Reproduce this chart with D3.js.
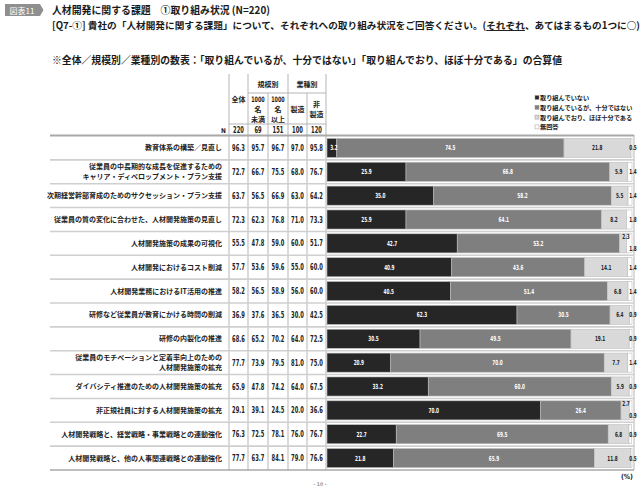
<!DOCTYPE html>
<html><head><meta charset="utf-8">
<script src="https://cdn.jsdelivr.net/npm/d3@7"></script>
<style>
html,body{margin:0;padding:0;background:#fff;}
svg{display:block;}
.jp{font-family:"Noto Sans CJK JP","Noto Sans",sans-serif;}
.num{font-family:"Liberation Sans Narrow","DejaVu Sans Condensed","Liberation Sans",sans-serif;font-weight:bold;}
</style></head>
<body>
<svg id="chart" width="643" height="486"></svg>
<script>
const categories = [
  "教育体系の構築／見直し",
  "従業員の中長期的な成長を促進するための\nキャリア・ディベロップメント・プラン支援",
  "次期経営幹部育成のためのサクセッション・プラン支援",
  "従業員の質の変化に合わせた、人材開発施策の見直し",
  "人材開発施策の成果の可視化",
  "人材開発におけるコスト削減",
  "人材開発業務におけるIT活用の推進",
  "研修など従業員が教育にかける時間の削減",
  "研修の内製化の推進",
  "従業員のモチベーションと定着率向上のための\n人材開発施策の拡充",
  "ダイバシティ推進のための人材開発施策の拡充",
  "非正規社員に対する人材開発施策の拡充",
  "人材開発戦略と、経営戦略・事業戦略との連動強化",
  "人材開発戦略と、他の人事関連戦略との連動強化"
];
const colTotal     = [96.3,72.7,63.7,72.3,55.5,57.7,58.2,36.9,68.6,77.7,65.9,29.1,76.3,77.7];
const colUnder1000 = [95.7,66.7,56.5,62.3,47.8,53.6,56.5,37.6,65.2,73.9,47.8,39.1,72.5,63.7];
const colOver1000  = [96.7,75.5,66.9,76.8,59.0,59.6,58.9,36.5,70.2,79.5,74.2,24.5,78.1,84.1];
const colMfg       = [97.0,68.0,63.0,71.0,60.0,55.0,56.0,30.0,64.0,81.0,64.0,20.0,76.0,79.0];
const colNonMfg    = [95.8,76.7,64.2,73.3,51.7,60.0,60.0,42.5,72.5,75.0,67.5,36.6,76.7,76.6];
const nValues = [220,69,151,100,120];

const notDoing      = [3.2,25.9,35.0,25.9,42.7,40.9,40.5,62.3,30.5,20.9,33.2,70.0,22.7,21.8];
const insufficient  = [74.5,66.8,58.2,64.1,53.2,43.6,51.4,30.5,49.5,70.0,60.0,26.4,69.5,65.9];
const sufficient    = [21.8,5.9,5.5,8.2,2.3,14.1,6.8,6.4,19.1,7.7,5.9,2.7,6.8,11.8];
const noAnswer      = [0.5,1.4,1.4,1.8,1.8,1.4,1.4,0.9,0.9,1.4,0.9,0.9,0.9,0.5];

const legendLabels = ["取り組んでいない","取り組んでいるが、十分ではない","取り組んでおり、ほぼ十分である","無回答"];
const segColors = ["#262626","#7f7f7f","#d9d9d9","#ffffff"];
const segText = ["#ffffff","#ffffff","#222222","#222222"];

const svg = d3.select("#chart");
// condensed number text helper
function numFit(sel, perChar){
  sel.each(function(){
    const t = this.textContent;
    const w = t.replace(/\./g,"").length*perChar + (t.includes(".")?perChar*0.45:0);
    d3.select(this).attr("textLength",w).attr("lengthAdjust","spacingAndGlyphs");
  });
}

// ---------- header ----------
svg.append("path").attr("d","M5,4 H40 L43.5,10 L40,16 H5 Z").attr("fill","#8f8f8f");
svg.append("text").attr("class","jp").attr("x",22).attr("y",13.5).attr("text-anchor","middle")
  .attr("font-size",8).attr("fill","#fff").text("図表11");
svg.append("text").attr("class","jp").attr("x",52).attr("y",14).attr("font-size",10.5)
  .attr("font-weight","bold").attr("fill","#1a1a1a").attr("textLength",218).attr("lengthAdjust","spacingAndGlyphs")
  .text("人材開発に関する課題　①取り組み状況 (N=220)");
const l2 = svg.append("text").attr("class","jp").attr("x",52).attr("y",29).attr("font-size",9.6)
  .attr("font-weight","bold").attr("fill","#1a1a1a").attr("textLength",588).attr("lengthAdjust","spacingAndGlyphs");
l2.append("tspan").text("[Q7-①] 貴社の「人材開発に関する課題」について、それぞれへの取り組み状況をご回答ください。(");
l2.append("tspan").attr("text-decoration","underline").text("それぞれ");
l2.append("tspan").text("、あてはまるもの1つに○)");
svg.append("text").attr("class","jp").attr("x",52).attr("y",63.5).attr("font-size",10)
  .attr("font-weight","bold").attr("fill","#1a1a1a").attr("textLength",510).attr("lengthAdjust","spacingAndGlyphs")
  .text("※全体／規模別／業種別の数表：「取り組んでいるが、十分ではない」「取り組んでおり、ほぼ十分である」の合算値");

// ---------- scales ----------
const y = d3.scaleBand().domain(d3.range(categories.length)).range([136,470]).paddingInner(0.2).paddingOuter(0.1);
const x = d3.scaleLinear().domain([0,100]).range([327,632]);
const colEdges = [229,248,268,288,307,326];
const colCenters = d3.range(5).map(i => (colEdges[i]+colEdges[i+1])/2);
const rowH = 334/categories.length;
const rowTop = i => 136 + i*rowH;

// ---------- table grid ----------
const grid = svg.append("g").attr("stroke","#b5b5b5").attr("stroke-width",1);
[229,248,288,326].forEach(xx => grid.append("line").attr("x1",xx).attr("x2",xx).attr("y1",74).attr("y2",470));
[268,307].forEach(xx => grid.append("line").attr("x1",xx).attr("x2",xx).attr("y1",93).attr("y2",470));
grid.append("line").attr("x1",248).attr("x2",326).attr("y1",93).attr("y2",93);
grid.append("line").attr("x1",229).attr("x2",326).attr("y1",124).attr("y2",124);
grid.append("line").attr("x1",634).attr("x2",634).attr("y1",135).attr("y2",470);
for (let i=1;i<categories.length;i++){
  svg.append("line").attr("x1",50).attr("x2",634).attr("y1",rowTop(i)).attr("y2",rowTop(i))
    .attr("stroke","#cfcfcf").attr("stroke-width",1.6);
}
svg.append("line").attr("x1",50).attr("x2",634).attr("y1",135.5).attr("y2",135.5).attr("stroke","#a8a8a8").attr("stroke-width",2);
svg.append("line").attr("x1",50).attr("x2",634).attr("y1",470).attr("y2",470).attr("stroke","#a8a8a8").attr("stroke-width",1.5);

// header labels
const hdr = svg.append("g").attr("font-size",7).attr("font-weight","bold").attr("fill","#222").attr("text-anchor","middle");
hdr.append("text").attr("class","jp").attr("x",268).attr("y",87).text("規模別");
hdr.append("text").attr("class","jp").attr("x",307).attr("y",87).text("業種別");
hdr.append("text").attr("class","jp").attr("x",colCenters[0]).attr("y",102).text("全体");
[[1,["1000","名","未満"]],[2,["1000","名","以上"]]].forEach(([c,lines]) => {
  lines.forEach((t,k) => {
    const tx = hdr.append("text").attr("x",colCenters[c]).attr("y",102+k*10)
      .attr("class", k===0 ? "num" : "jp").attr("font-size",k===0?7.5:7).text(t);
    if (k===0) tx.attr("textLength",13.5).attr("lengthAdjust","spacingAndGlyphs");
  });
});
hdr.append("text").attr("class","jp").attr("x",colCenters[3]).attr("y",112).text("製造");
hdr.append("text").attr("class","jp").attr("x",colCenters[4]).attr("y",107).text("非");
hdr.append("text").attr("class","jp").attr("x",colCenters[4]).attr("y",117).text("製造");
svg.append("text").attr("class","num").attr("x",226).attr("y",132.5).attr("text-anchor","end").attr("font-size",6.5).attr("fill","#222").text("N");
svg.selectAll(".nval").data(nValues).join("text").attr("class","num nval")
  .attr("x",(d,i)=>colCenters[i]).attr("y",132.5).attr("text-anchor","middle").attr("font-size",8).attr("fill","#222").text(d=>d)
  .call(numFit,3.6);

// ---------- legend ----------
const lg = svg.append("g");
legendLabels.forEach((t,i) => {
  const yy = 98 + i*9.8;
  lg.append("rect").attr("x",535).attr("y",yy-2.5).attr("width",4).attr("height",4)
    .attr("fill",segColors[i]).attr("stroke","#999").attr("stroke-width",0.5);
  lg.append("text").attr("class","jp").attr("x",540).attr("y",yy+2).attr("font-size",6.2)
    .attr("font-weight","bold").attr("fill","#222").text(t);
});

// ---------- rows ----------
const tableCols = [colTotal,colUnder1000,colOver1000,colMfg,colNonMfg];
categories.forEach((cat,i) => {
  const cy = rowTop(i) + rowH/2;
  const lines = cat.split("\n");
  lines.forEach((ln,k) => {
    svg.append("text").attr("class","jp").attr("x",222).attr("y",cy + 2.5 + (k - (lines.length-1)/2)*10)
      .attr("text-anchor","end").attr("font-size",7).attr("font-weight","bold").attr("fill","#222").text(ln);
  });
  tableCols.forEach((col,c) => {
    svg.append("text").attr("class","num").attr("x",colCenters[c]).attr("y",cy+3)
      .attr("text-anchor","middle").attr("font-size",8.5).attr("fill","#222").text(col[i].toFixed(1))
      .call(numFit,3.7);
  });
});

// stacked bars
const series = [notDoing,insufficient,sufficient,noAnswer];
const stacked = categories.map((c,i) => {
  let acc = 0;
  return series.map((s,k) => { const r = {row:i,k,v:s[i],x0:acc,x1:acc+s[i]}; acc += s[i]; return r; });
}).flat();

svg.append("g").selectAll("rect").data(stacked).join("rect")
  .attr("x",d=>x(d.x0)).attr("width",d=>Math.max(0,x(Math.min(d.x1,100))-x(d.x0)))
  .attr("y",d=>y(d.row)).attr("height",y.bandwidth())
  .attr("fill",d=>segColors[d.k]).attr("stroke","#bdbdbd").attr("stroke-width",0.6);

svg.append("g").selectAll("text").data(stacked).join("text")
  .attr("class","num").attr("font-size",7).attr("text-anchor","middle")
  .attr("fill",d=>segText[d.k])
  .attr("x",d=>{
    if (d.k===3) return 633;
    if (d.k===2 && d.v<4) return 626;
    return (x(d.x0)+x(d.x1))/2 + (d.k===0 && d.v<5 ? 2 : 0);
  })
  .attr("y",d=>{
    const cy = y(d.row)+y.bandwidth()/2;
    const small = sufficient[d.row]<4;
    if (d.k===2 && small) return cy-4.5;
    if (d.k===3 && small) return cy+7.5;
    return cy+2.5;
  })
  .text(d=>d.v.toFixed(1))
  .call(numFit,3.0);

svg.append("text").attr("class","num").attr("x",633).attr("y",479).attr("text-anchor","end").attr("font-size",7).attr("fill","#222").text("(%)");
svg.append("text").attr("class","num").attr("x",320).attr("y",485.5).attr("text-anchor","middle").attr("font-size",5).attr("fill","#999").text("- 10 -");
</script>
</body></html>
